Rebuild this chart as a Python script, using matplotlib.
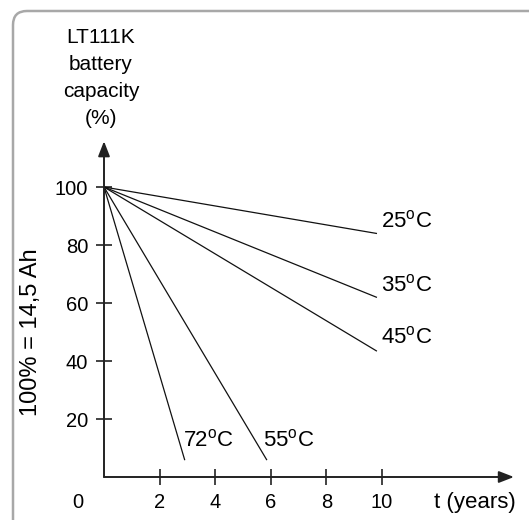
import matplotlib.pyplot as plt
from matplotlib.patches import FancyBboxPatch

plt.rcParams['font.family'] = ['Liberation Sans', 'DejaVu Sans']
plt.rcParams['mathtext.fontset'] = 'custom'
plt.rcParams['mathtext.rm'] = 'Liberation Sans'

# capacity lines: start at (0, 100), end points
temps = ['25', '35', '45', '55', '72']
end_years = [9.8, 9.8, 9.8, 5.85, 2.9]
end_capacity = [84, 62, 43.5, 6, 6]

# label positions (data coords)
label_x = [9.95, 9.95, 9.95, 5.72, 2.85]
label_y = [88, 66, 48, 12.5, 12.5]

x_ticks = [2, 4, 6, 8, 10]
y_ticks = [20, 40, 60, 80, 100]

fig = plt.figure(figsize=(5.29, 5.20), dpi=100)
W, H = 529, 520
# axes placed so that x=0 -> 104 px, y=0 -> 477 px
ax = fig.add_axes([104 / W, (H - 477) / H, 403 / W, 339 / H])
ax.set_xlim(0, 14.5)
ax.set_ylim(0, 116.9)
ax.patch.set_alpha(0)
for s in ax.spines.values():
    s.set_visible(False)

# rounded frame, only top-left corner visible
frame = FancyBboxPatch((0.13, -1), 10, 5.09 + 1,
                       boxstyle="round,pad=0,rounding_size=0.14",
                       transform=fig.dpi_scale_trans, fill=False,
                       edgecolor='#a8a8a8', linewidth=1.8)
fig.patches.append(frame)

# axes with arrows
arrow = dict(arrowstyle='-|>,head_length=0.9,head_width=0.35', color='#222222',
             lw=1.4, shrinkA=0, shrinkB=0)
ax.annotate('', xy=(14.75, 0), xytext=(0, 0), arrowprops=arrow, annotation_clip=False)
ax.annotate('', xy=(0, 115.8), xytext=(0, 0), arrowprops=arrow, annotation_clip=False)

for t, x1, y1, lx, ly in zip(temps, end_years, end_capacity, label_x, label_y):
    ax.plot([0, x1], [100, y1], color='#111111', lw=0.9)
    ax.text(lx, ly, t + r'$^{\mathrm{o}}$C', fontsize=16, va='center', ha='left')

ax.set_xticks(x_ticks)
ax.set_xticklabels([str(v) for v in x_ticks])
ax.set_yticks(y_ticks)
ax.set_yticklabels([str(v) for v in y_ticks])
ax.tick_params(direction='inout', length=11, width=1.2, color='#222222',
               labelsize=14.5, pad=6)

ax.text(-0.95, -8.8, '0', fontsize=14.5, ha='center', va='center')
ax.text(13.35, -8.8, 't (years)', fontsize=16, ha='center', va='center')
fig.text(31 / W, 1 - 332 / H, '100% = 14,5 Ah', fontsize=17, rotation=90,
         ha='center', va='center')

fig.text(101 / W, 1 - 78 / H, 'LT111K\nbattery\ncapacity\n(%)', fontsize=15,
         ha='center', va='center', linespacing=1.55)

fig.savefig('out.png', dpi=100)
